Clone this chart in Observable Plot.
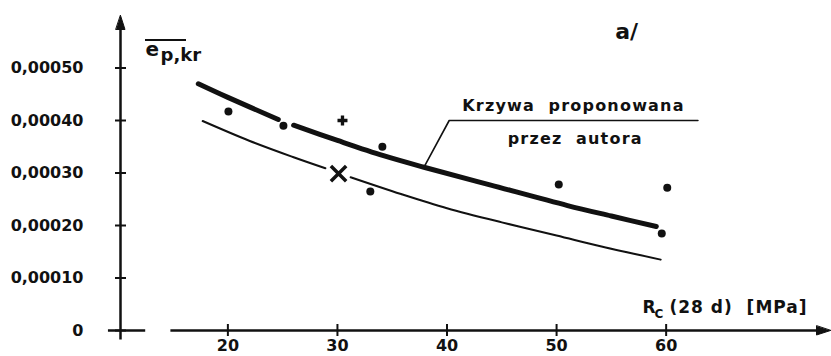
<!DOCTYPE html>
<html>
<head>
<meta charset="utf-8">
<script src="https://cdn.jsdelivr.net/npm/d3@7"></script>
<script src="https://cdn.jsdelivr.net/npm/@observablehq/plot@0.6"></script>
<style>
  body { margin: 0; background: #fff; }
</style>
</head>
<body>
<div id="chart"></div>
<script>
// Compressive strength Rc (28 d) in MPa on x, critical strain e_p,kr on y.
const xDomain = [10.2, 75];
const yDomain = [0, 0.0006];

const xTicks = [20, 30, 40, 50, 60];
const yTicks = [0, 0.0001, 0.0002, 0.0003, 0.0004, 0.0005];
const yTickLabels = ["0", "0,00010", "0,00020", "0,00030", "0,00040", "0,00050"];

// Proposed curve (thick), interrupted around the point at 25 MPa
const proposedRc = [17.3, 20, 24.6, 26.0, 30, 34.2, 37.9, 44, 51, 55, 59.1];
const proposedE = [0.00047, 0.000444, 0.000402, 0.000391, 0.000362, 0.000333, 0.000311, 0.000277, 0.000238, 0.000218, 0.000198];
const proposedPart = [1, 1, 1, 2, 2, 2, 2, 2, 2, 2, 2];

// Lower curve (thin), interrupted around the x-marked point at 30 MPa
const lowerRc = [17.7, 22, 26, 28.9, 31.2, 35.8, 40, 45, 50, 54.1, 59.5];
const lowerE = [0.000399, 0.000361, 0.00033, 0.000309, 0.000292, 0.00026, 0.000233, 0.000206, 0.000181, 0.00016, 0.000135];
const lowerPart = [1, 1, 1, 1, 2, 2, 2, 2, 2, 2, 2];

// Test results
const pointRc = [20.05, 25.07, 34.1, 33.0, 50.2, 60.1, 59.6];
const pointE = [0.000417, 0.00039, 0.00035, 0.000265, 0.000278, 0.000272, 0.000185];
const plusRc = [30.46];
const plusE = [0.0004];
const crossRc = [30.1];
const crossE = [0.000299];

// Leader from the proposed curve to its caption
const leaderRc = [37.9, 40.2, 62.9];
const leaderE = [0.000311, 0.0004, 0.0004];

const captionTop = "Krzywa\u00a0\u00a0proponowana";
const captionBottom = "przez\u00a0\u00a0autora";
const unitText = "(28\u00a0d)\u00a0\u00a0[MPa]";

const rows = (xs, ys, parts) => xs.map((x, i) => ({x, y: ys[i], part: parts ? parts[i] : 0}));
const proposed = rows(proposedRc, proposedE, proposedPart);
const lower = rows(lowerRc, lowerE, lowerPart);
const points = rows(pointRc, pointE);
const pluses = rows(plusRc, plusE);
const crosses = rows(crossRc, crossE);
const leader = rows(leaderRc, leaderE);
const tickLabel = new Map(yTicks.map((t, i) => [t, yTickLabels[i]]));

// Filled arrow head; the tip sits at the anchor point
const head = {
  draw(ctx, l, r) {
    ctx.moveTo(0, -l);
    ctx.lineTo(r, 0);
    ctx.lineTo(-r, 0);
    ctx.closePath();
  }
};

const ink = "#111";

const chart = Plot.plot({
  width: 831,
  height: 356,
  marginLeft: 120,
  marginRight: 1,
  marginTop: 15,
  marginBottom: 26,
  x: {domain: xDomain},
  y: {domain: yDomain},
  style: {
    fontFamily: "'DejaVu Sans', sans-serif",
    fontSize: "16px",
    fontWeight: "bold",
    color: ink,
    background: "#fff"
  },
  marks: [
    // axis lines (x axis broken near the origin)
    Plot.ruleY([0], {x1: 9.1, x2: 12.5, stroke: ink, strokeWidth: 2.5}),
    Plot.ruleY([0], {x1: 14.8, x2: 74, stroke: ink, strokeWidth: 2.5}),
    Plot.ruleX([xDomain[0]], {y1: -0.000018, y2: 0.00058, stroke: ink, strokeWidth: 2.5}),
    Plot.vector([{x: xDomain[0], y: yDomain[1]}], {x: "x", y: "y", length: 14, r: 4.5, anchor: "end", shape: head, fill: ink, stroke: ink, strokeWidth: 1}),
    Plot.vector([{x: xDomain[1], y: 0}], {x: "x", y: "y", length: 14, r: 4.5, rotate: 90, anchor: "end", shape: head, fill: ink, stroke: ink, strokeWidth: 1}),

    // ticks crossing the axes, with labels
    Plot.axisY(yTicks, {label: null, tickSize: 11, dx: 6, tickPadding: 32, tickFormat: d => tickLabel.get(d), strokeWidth: 2, fontSize: 16, fill: ink, stroke: ink}),
    Plot.axisX(xTicks, {label: null, tickSize: 12, dy: -6, tickPadding: 3, strokeWidth: 2, fontSize: 16, fill: ink, stroke: ink}),

    // curves
    Plot.line(proposed, {x: "x", y: "y", z: "part", stroke: ink, strokeWidth: 5, curve: "catmull-rom", strokeLinecap: "round"}),
    Plot.line(lower, {x: "x", y: "y", z: "part", stroke: ink, strokeWidth: 2, curve: "catmull-rom"}),
    Plot.line(leader, {x: "x", y: "y", stroke: ink, strokeWidth: 1.6}),

    // measured points
    Plot.dot(points, {x: "x", y: "y", r: 4, fill: ink}),
    Plot.dot(pluses, {x: "x", y: "y", symbol: "cross", r: 4.2, fill: ink}),
    Plot.dot(crosses, {x: "x", y: "y", symbol: "times", r: 7, stroke: ink, strokeWidth: 3.5}),

    // captions
    Plot.text([captionTop], {x: 51.54, y: 0.000419, textAnchor: "middle", lineAnchor: "bottom", fontSize: 16, fill: ink}),
    Plot.text([captionBottom], {x: 51.7, y: 0.000356, textAnchor: "middle", lineAnchor: "bottom", fontSize: 16, fill: ink}),
    Plot.text(["a/"], {x: 56.4, y: 0.000556, textAnchor: "middle", lineAnchor: "bottom", fontSize: 22, fill: ink}),

    // axis titles
    Plot.text(["e"], {frameAnchor: "top-left", dx: 25, dy: 40, textAnchor: "start", lineAnchor: "bottom", fontSize: 20, fill: ink}),
    Plot.text(["p,kr"], {frameAnchor: "top-left", dx: 40, dy: 45, textAnchor: "start", lineAnchor: "bottom", fontSize: 18, fill: ink}),
    Plot.text(["R"], {frameAnchor: "bottom-right", dx: -188, dy: -18, textAnchor: "start", lineAnchor: "bottom", fontSize: 17, fill: ink}),
    Plot.text(["C"], {frameAnchor: "bottom-right", dx: -176, dy: -13, textAnchor: "start", lineAnchor: "bottom", fontSize: 12, fill: ink}),
    Plot.text([unitText], {frameAnchor: "bottom-right", dx: -161, dy: -18, textAnchor: "start", lineAnchor: "bottom", fontSize: 17, fill: ink})
  ]
});

const svg = d3.select(chart);

// wide lettering for the captions and unit label
const spacing = new Map([[captionTop, 1.2], [captionBottom, 1.2], [unitText, 1.0]]);
svg.selectAll("text")
  .filter(function () { return spacing.has(this.textContent); })
  .attr("letter-spacing", function () { return spacing.get(this.textContent); });

// overline over the y-axis symbol
svg.append("line")
  .attr("x1", 145).attr("x2", 186)
  .attr("y1", 40).attr("y2", 40)
  .attr("stroke", ink).attr("stroke-width", 2);

document.getElementById("chart").append(chart);
</script>
</body>
</html>
